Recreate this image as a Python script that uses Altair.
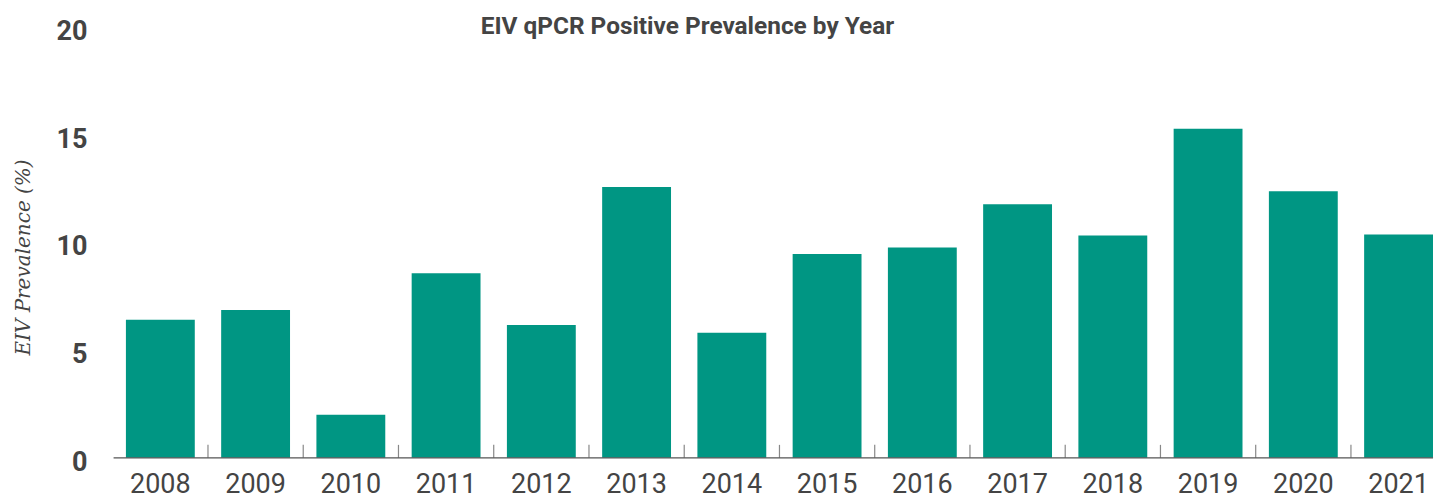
import altair as alt
import pandas as pd

years = [str(y) for y in range(2008, 2022)]
values = [6.4, 6.85, 2.0, 8.55, 6.15, 12.55, 5.8, 9.45, 9.75, 11.75, 10.3, 15.25, 12.35, 10.35]
y_ticks = [0, 5, 10, 15, 20]

df = pd.DataFrame({"year": years, "value": values})
ticks_df = pd.DataFrame({"year": years[1:]})
axis_df = pd.DataFrame({"start": [years[0]], "end": [years[-1]]})

x_scale = alt.Scale(domain=years, paddingInner=0.277, paddingOuter=0)

bars = alt.Chart(df).mark_bar(color="#009683").encode(
    x=alt.X(
        "year:N", scale=x_scale, sort=years,
        axis=alt.Axis(
            title=None, labelAngle=0, labelFont="Roboto", labelFontSize=27,
            labelColor="#444444", ticks=False, domain=False, labelPadding=14,
        ),
    ),
    y=alt.Y(
        "value:Q", scale=alt.Scale(domain=[0, 20]),
        axis=alt.Axis(
            values=y_ticks, title="EIV Prevalence (%)", titleFont="DejaVu Serif",
            titleFontStyle="italic", titleFontWeight="normal", titleFontSize=20,
            titleColor="#444444", titlePadding=23, titleY=231, labelFont="Roboto",
            labelFontWeight="bold", labelFontSize=27, labelColor="#444444",
            labelPadding=39, labelOffset=5, domain=False, ticks=False, grid=False,
        ),
    ),
)

# baseline (axis line) spanning slightly beyond the outer bars
baseline = alt.Chart(axis_df).mark_rule(
    color="#555555", strokeWidth=1.2, xOffset=-46.8, x2Offset=34.5,
).encode(
    x=alt.X("start:N", sort=years, scale=x_scale),
    x2="end:N",
    y=alt.datum(0),
)

ticks = alt.Chart(ticks_df).mark_tick(
    orient="vertical", size=13, thickness=1.2, color="#555555",
    xOffset=-47.65, yOffset=-6.5,
).encode(
    x=alt.X("year:N", sort=years, scale=x_scale),
    y=alt.datum(0),
)

chart = alt.layer(bars, baseline, ticks).properties(
    width=1308,
    height=432,
    padding={"left": 5, "top": 5, "right": 0, "bottom": 0},
    title=alt.TitleParams(
        text="EIV qPCR Positive Prevalence by Year", font="Roboto", fontSize=24.4,
        fontWeight="bold", color="#444444", anchor="start", dx=468,
        baseline="alphabetic", offset=-31, dy=10,
    ),
).configure_view(stroke=None)

chart.save("out.html", embed_options={"renderer": "svg", "actions": False})
